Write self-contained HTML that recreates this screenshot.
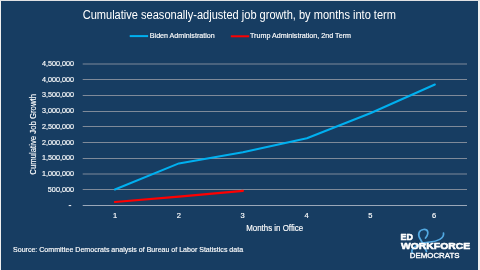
<!DOCTYPE html>
<html><head><meta charset="utf-8">
<style>
html,body{margin:0;padding:0;background:#ffffff;}
body{width:480px;height:270px;overflow:hidden;position:relative;}
svg{position:absolute;left:0;top:0;display:block;will-change:transform;}
text{font-family:"Liberation Sans",sans-serif;fill:#ffffff;}
.b{stroke:#ffffff;stroke-width:0.15;}
</style></head><body>
<svg width="480" height="270" viewBox="0 0 480 270">
  <rect x="0" y="0" width="480" height="270" fill="#f0f0f0"/>
  <rect x="0" y="0" width="480" height="1" fill="#e1e1e3"/>
  <rect x="1" y="1" width="477" height="269" fill="#173d62"/>
  <!-- title -->
  <text x="82.7" y="18.8" font-size="12.3" textLength="313.3" lengthAdjust="spacingAndGlyphs">Cumulative seasonally-adjusted job growth, by months into term</text>
  <!-- legend -->
  <line x1="129.7" y1="36.1" x2="148.1" y2="36.1" stroke="#00b0f0" stroke-width="2"/>
  <text class="b" x="149.8" y="38.4" font-size="7.3" textLength="64.9" lengthAdjust="spacingAndGlyphs">Biden Administration</text>
  <line x1="230.8" y1="36.3" x2="249.2" y2="36.3" stroke="#ff0000" stroke-width="2"/>
  <text class="b" x="250" y="38.4" font-size="7.3" textLength="101" lengthAdjust="spacingAndGlyphs">Trump Administration, 2nd Term</text>
  <!-- gridlines -->
  <g fill="#7f8a99">
    <rect x="82.7" y="63.5" width="384.3" height="1"/>
    <rect x="82.7" y="79" width="384.3" height="1"/>
    <rect x="82.7" y="95" width="384.3" height="1"/>
    <rect x="82.7" y="111" width="384.3" height="1"/>
    <rect x="82.7" y="126" width="384.3" height="1"/>
    <rect x="82.7" y="142" width="384.3" height="1"/>
    <rect x="82.7" y="158" width="384.3" height="1"/>
    <rect x="82.7" y="173.5" width="384.3" height="1"/>
    <rect x="82.7" y="189" width="384.3" height="1"/>
  </g>
  <rect x="82.7" y="205" width="384.3" height="1" fill="#9aa8b9"/>
  <!-- y labels -->
  <g font-size="7.3" class="b">
    <text x="42.1" y="65.90" textLength="32" lengthAdjust="spacingAndGlyphs">4,500,000</text>
    <text x="42.1" y="81.65" textLength="32" lengthAdjust="spacingAndGlyphs">4,000,000</text>
    <text x="42.1" y="97.40" textLength="32" lengthAdjust="spacingAndGlyphs">3,500,000</text>
    <text x="42.1" y="113.15" textLength="32" lengthAdjust="spacingAndGlyphs">3,000,000</text>
    <text x="42.1" y="128.90" textLength="32" lengthAdjust="spacingAndGlyphs">2,500,000</text>
    <text x="42.1" y="144.65" textLength="32" lengthAdjust="spacingAndGlyphs">2,000,000</text>
    <text x="42.1" y="160.40" textLength="32" lengthAdjust="spacingAndGlyphs">1,500,000</text>
    <text x="42.1" y="176.15" textLength="32" lengthAdjust="spacingAndGlyphs">1,000,000</text>
    <text x="47.8" y="191.90" textLength="26.3" lengthAdjust="spacingAndGlyphs">500,000</text>
  </g>
  <rect x="68.7" y="205" width="2.5" height="1.1" fill="#e6e9ee"/>
  <!-- x labels -->
  <g font-size="7.5" text-anchor="middle" class="b">
    <text x="115.0" y="217.9">1</text>
    <text x="178.8" y="217.9">2</text>
    <text x="242.7" y="217.9">3</text>
    <text x="306.5" y="217.9">4</text>
    <text x="370.4" y="217.9">5</text>
    <text x="434.2" y="217.9">6</text>
  </g>
  <text class="b" x="246.2" y="230.9" font-size="8.6" textLength="57" lengthAdjust="spacingAndGlyphs">Months in Office</text>
  <text class="b" transform="translate(35.6,174.7) rotate(-90)" x="0" y="0" font-size="8.2" textLength="80.7" lengthAdjust="spacingAndGlyphs">Cumulative Job Growth</text>
  <!-- series -->
  <polyline points="114.9,189.5 178.9,163.4 242.9,152.2 306.9,138.2 370.9,113.0 434.9,84.5" fill="none" stroke="#00b0f0" stroke-width="2" stroke-linejoin="round" stroke-linecap="round"/>
  <polyline points="114.9,202.0 178.9,196.6 242.9,190.9" fill="none" stroke="#ff0000" stroke-width="2.2" stroke-linejoin="round" stroke-linecap="round"/>
  <!-- source -->
  <text class="b" x="13" y="252.1" font-size="7.3" textLength="230.1" lengthAdjust="spacingAndGlyphs">Source: Committee Democrats analysis of Bureau of Labor Statistics data</text>
  <!-- logo -->
  <g fill="none" stroke="#52a9e2" stroke-width="1.7" stroke-linecap="round" stroke-linejoin="round">
    <path d="M425.5,238 C429.5,233 428,229 423.5,229.5 C419,230 417,234.5 420.5,239.5 C422.5,243 425,247 426.5,251.5"/>
    <path d="M443.5,233 C444.5,238.5 437,241.5 430,242 C423,242.5 416,245 413,248.5 C411.5,250.5 411.5,252 412.5,252.5"/>
  </g>
  <g stroke="#ffffff" stroke-linejoin="round">
  <text x="400.5" y="239.9" font-size="9.1" font-weight="bold" stroke-width="0.55" textLength="12.4" lengthAdjust="spacingAndGlyphs">ED</text>
  <text x="401.0" y="249.3" font-size="9.6" font-weight="bold" stroke-width="0.6" textLength="69.1" lengthAdjust="spacingAndGlyphs">WORKFORCE</text>
  <text x="409.8" y="258.0" font-size="7.7" stroke-width="0.35" textLength="49.7" lengthAdjust="spacingAndGlyphs">DEMOCRATS</text>
  </g>
</svg>
</body></html>
